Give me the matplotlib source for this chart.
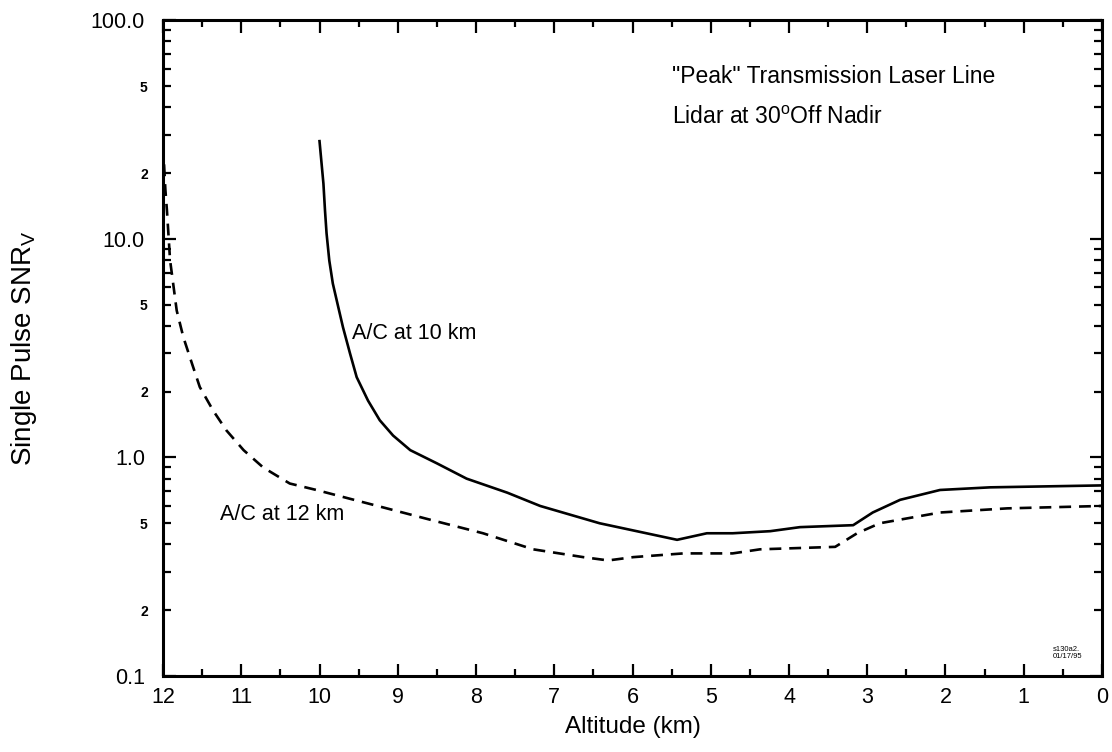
import math
import matplotlib
matplotlib.use("Agg")
import matplotlib.pyplot as plt
from matplotlib.ticker import FixedLocator, FuncFormatter, MultipleLocator

plt.rcParams['font.family'] = ['Liberation Sans', 'DejaVu Sans']

# A/C at 10 km (solid)
alt_10 = [10.0, 9.95, 9.93, 9.91, 9.875, 9.83, 9.76, 9.70, 9.61, 9.525, 9.38, 9.23,
          9.06, 8.84, 8.50, 8.12, 7.60, 7.18, 6.42, 5.43, 5.05, 4.72, 4.24, 3.86,
          3.18, 2.93, 2.58, 2.07, 1.43, 0.0]
snr_10 = [28.0, 17.9, 13.5, 10.6, 7.96, 6.25, 4.87, 3.94, 2.99, 2.33, 1.82, 1.48,
          1.26, 1.08, 0.94, 0.80, 0.69, 0.60, 0.50, 0.42, 0.45, 0.45, 0.46, 0.48,
          0.49, 0.56, 0.64, 0.71, 0.73, 0.745]

# A/C at 12 km (dashed)
alt_12 = [12.0, 11.97, 11.95, 11.91, 11.825, 11.74, 11.63, 11.53, 11.36, 11.19,
          10.97, 10.72, 10.38, 10.04, 9.61, 9.18, 8.55, 7.91, 7.27, 6.63, 6.31,
          5.99, 5.35, 4.72, 4.37, 3.41, 3.13, 2.84, 2.07, 1.21, 0.0]
snr_12 = [27.0, 16.8, 13.5, 8.0, 4.70, 3.55, 2.69, 2.10, 1.64, 1.33,
          1.08, 0.90, 0.76, 0.71, 0.647, 0.59, 0.515, 0.45, 0.38, 0.35, 0.338,
          0.35, 0.364, 0.364, 0.38, 0.39, 0.45, 0.50, 0.56, 0.585, 0.60]

major_y = [0.1, 1.0, 10.0, 100.0]
minor_y = [m * d for d in [0.1, 1.0, 10.0] for m in range(2, 10)]
minor_labels = {2: '2', 5: '5'}

fig = plt.figure(figsize=(11.12, 7.52), dpi=100)
ax = fig.add_axes([0.1466, 0.101, 0.8444, 0.872])

ax.plot(alt_10, snr_10, color='black', lw=1.9)
ax.plot(alt_12, snr_12, color='black', lw=1.9, linestyle=(0, (4.5, 3)))

ax.set_yscale('log')
ax.set_ylim(0.1, 100)
ax.set_xlim(12, 0)

ax.xaxis.set_major_locator(MultipleLocator(1))
ax.xaxis.set_minor_locator(MultipleLocator(0.5))
ax.yaxis.set_major_locator(FixedLocator(major_y))
ax.yaxis.set_minor_locator(FixedLocator(minor_y))
ax.yaxis.set_major_formatter(FuncFormatter(lambda v, p: '%.1f' % v))


def minor_fmt(v, p):
    lead = round(v / 10 ** math.floor(math.log10(v) + 1e-9))
    return minor_labels.get(lead, '')


ax.yaxis.set_minor_formatter(FuncFormatter(minor_fmt))

ax.tick_params(which='both', direction='in', top=True, right=True, width=1.6, color='black')
ax.tick_params(axis='x', which='major', length=9, pad=8, labelsize=15.5)
ax.tick_params(axis='x', which='minor', length=5)
ax.tick_params(axis='y', which='major', length=9, pad=13, labelsize=15.5)
ax.tick_params(axis='y', which='minor', length=6, pad=11, labelsize=10)
for lab in ax.yaxis.get_minorticklabels():
    lab.set_fontweight('bold')

for s in ax.spines.values():
    s.set_linewidth(2.2)

ax.set_xlabel('Altitude (km)', fontsize=17.5, labelpad=6)
ax.set_ylabel(r'Single Pulse SNR$_\mathregular{V}$', fontsize=20)
ax.yaxis.set_label_coords(-0.132, 0.5)

ax.text(0.542, 0.915, '"Peak" Transmission Laser Line', transform=ax.transAxes,
        fontsize=16.5, va='center', ha='left')
ax.text(0.542, 0.852, r'Lidar at 30$^\mathregular{o}$Off Nadir', transform=ax.transAxes,
        fontsize=16.5, va='center', ha='left')
ax.text(9.58, 3.69, 'A/C at 10 km', fontsize=15.5, va='center', ha='left')
ax.text(11.27, 0.548, 'A/C at 12 km', fontsize=15.5, va='center', ha='left')
ax.text(0.63, 0.118, 's130a2.\n01/17/95', fontsize=5.5, va='bottom', ha='left', linespacing=1.1)

fig.savefig('out.png', dpi=100)
